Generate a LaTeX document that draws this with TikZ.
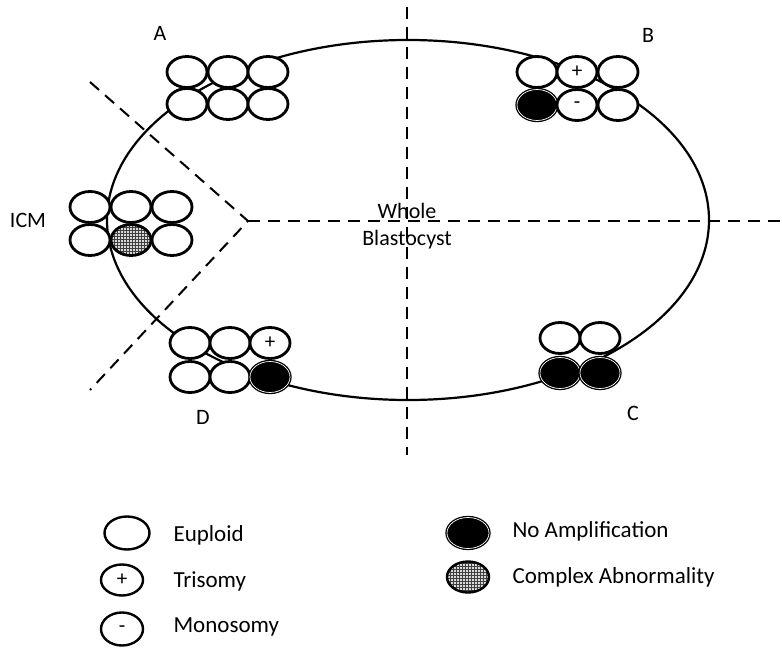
\documentclass[tikz,border=0pt]{standalone}
\usepackage{fontspec}
\setmainfont{Carlito}
\usetikzlibrary{shapes.geometric,patterns}
\tikzset{
    cell/.style={draw=black, line width=2.8pt, fill=white, ellipse, minimum width=40pt, minimum height=31pt, inner sep=0pt, font=\fontsize{21}{23}\selectfont},
    cellnoamp/.style={cell, fill=black, double=white, double distance=0.7pt, line width=1.3pt},
    cellcomplex/.style={cell, preaction={fill=gray!30}, pattern=grid, pattern color=black!75},
    keycell/.style={line width=2.4pt, minimum width=42pt, minimum height=31pt},
    region/.style={font=\fontsize{22}{27}\selectfont, align=center},
    keytext/.style={anchor=west, font=\fontsize{23}{26}\selectfont},
    divider/.style={line width=2pt, dash pattern=on 12pt off 8pt}
}
\begin{document}
\begin{tikzpicture}[x=1pt, y=-1pt]
            \useasboundingbox (0,0) rectangle (782,650);
            % blastocyst outline and the dividing lines
            \draw[line width=2.2pt] (408,220) ellipse [x radius=301, y radius=180];
            \coordinate (top) at (407,7);
            \coordinate (bottom) at (407,455);
            \coordinate (apex) at (248,221);
            \coordinate (right) at (782,221);
            \coordinate (upleft) at (90,82);
            \coordinate (lowleft) at (90,390);
            \draw[divider] (top) -- (bottom);
            \draw[divider] (apex) -- (right);
            \draw[divider] (upleft) -- (apex) -- (lowleft);
            \node[region] (whole) at (407,226) {Whole\\Blastocyst};
            % region A
            \node[region] (la) at (160,33) {A};
            \node[cell] (a1) at (187,72) {};
            \node[cell] (a2) at (228,72) {};
            \node[cell] (a3) at (268,72) {};
            \node[cell] (a4) at (187,104) {};
            \node[cell] (a5) at (228,104) {};
            \node[cell] (a6) at (268,104) {};
            % region B
            \node[region] (lb) at (648,35) {B};
            \node[cell] (b1) at (537,72) {};
            \node[cell] (b2) at (577,72) {+};
            \node[cell] (b3) at (618,72) {};
            \node[cellnoamp] (b4) at (537,105) {};
            \node[cell] (b5) at (577,105) {-};
            \node[cell] (b6) at (618,105) {};
            % inner cell mass
            \node[region] (licm) at (28,220) {ICM};
            \node[cell] (i1) at (90,207) {};
            \node[cell] (i2) at (131,207) {};
            \node[cell] (i3) at (172,207) {};
            \node[cell] (i4) at (90,240) {};
            \node[cellcomplex] (i5) at (131,240) {};
            \node[cell] (i6) at (172,240) {};
            % region D
            \node[region] (ld) at (203,417) {D};
            \node[cell] (d1) at (190,343) {};
            \node[cell] (d2) at (230,343) {};
            \node[cell] (d3) at (270,343) {+};
            \node[cell] (d4) at (190,377) {};
            \node[cell] (d5) at (230,377) {};
            \node[cellnoamp] (d6) at (270,377) {};
            % region C
            \node[region] (lc) at (633,413) {C};
            \node[cell] (c1) at (560,338) {};
            \node[cell] (c2) at (600,338) {};
            \node[cellnoamp] (c3) at (560,373) {};
            \node[cellnoamp] (c4) at (600,373) {};
            % key
            \node[cell, keycell, minimum width=45pt, minimum height=33pt] (keyeu) at (127,533) {};
            \node[keytext] (teu) at (170,535) {Euploid};
            \node[cell, keycell] (keytri) at (122,580) {+};
            \node[keytext] (ttri) at (170,581) {Trisomy};
            \node[cell, keycell, minimum height=33pt] (keymono) at (122,629) {-};
            \node[keytext] (tmono) at (170,627) {Monosomy};
            \node[cellnoamp, keycell, line width=1.3pt] (keyna) at (468,533) {};
            \node[keytext] (tna) at (509,531) {No Amplification};
            \node[cellcomplex, keycell] (keyca) at (468,577) {};
            \node[keytext] (tca) at (509,577) {Complex Abnormality};
        \end{tikzpicture}
\end{document}
